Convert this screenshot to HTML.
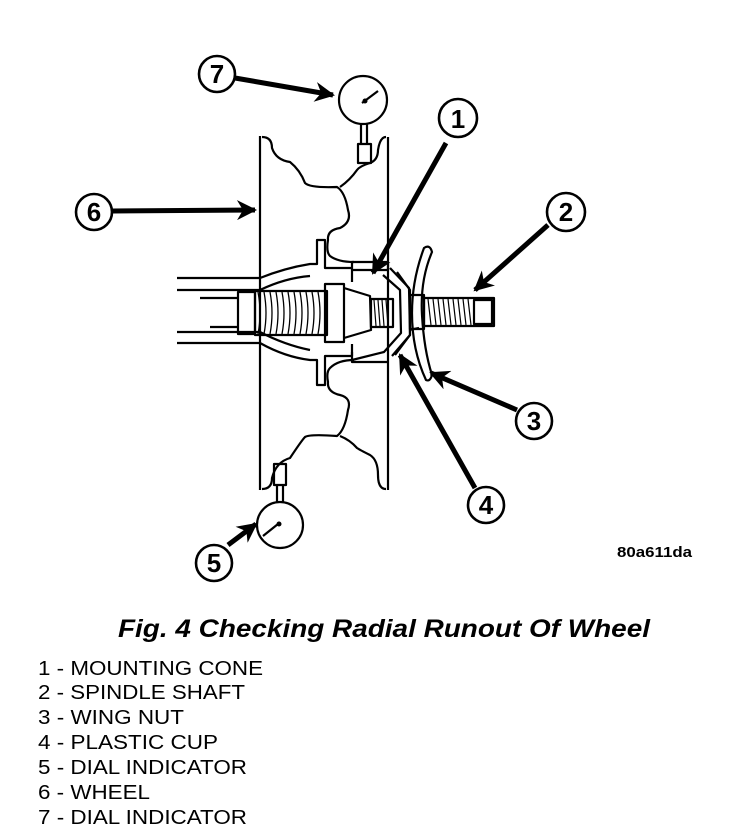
<!DOCTYPE html>
<html><head><meta charset="utf-8"><style>
html,body{margin:0;padding:0;background:#fff;width:736px;height:834px;overflow:hidden}
svg{display:block}
text{font-family:"Liberation Sans",Arial,sans-serif;fill:#000}
</style></head><body>
<svg width="736" height="834" viewBox="0 0 736 834" xmlns="http://www.w3.org/2000/svg">
<defs>
<marker id="ah" viewBox="0 0 10 10" refX="9" refY="5" markerWidth="4" markerHeight="4" orient="auto" markerUnits="strokeWidth">
<path d="M0,0 L10,5 L0,10 L3,5 z" fill="#000"/></marker>
</defs>
<g fill="none" stroke="#000" stroke-width="2.2" stroke-linejoin="round">
<path d="M260,136 L260,490"/>
<path d="M388,137 L388,490"/>
<path d="M262,137 Q272,137 272,148 Q276,160 290,162 Q300,170 305,183 Q310,188 337,187 Q345,192 348,210 Q352,222 340,228 Q327,230 328,240 Q326,252 330,256 Q338,262 354,262"/>
<path d="M386,137 Q380,137 378,150 Q378,160 370,163 Q360,166 357,170 Q350,180 340,187"/>
<path d="M262,489 Q272,489 272,478 Q276,462 290,458 Q302,440 305,437 Q310,434 337,436 Q345,430 348,410 Q352,398 340,395 Q327,392 328,382 Q326,372 330,368 Q338,360 354,360"/>
<path d="M386,489 Q378,489 378,475 Q378,460 370,455 Q360,450 357,448 Q350,440 340,436"/>
<path d="M177,278 L260,278 Q285,268 310,264 L317,264 L317,240 L325,240 L325,268 L352,268 L352,282"/>
<path d="M177,290 L260,290 Q285,278 310,276"/>
<path d="M177,343 L260,343 Q285,357 310,360 L317,360 L317,385 L325,385 L325,356 L352,356 L352,344"/>
<path d="M177,332 L260,332 Q285,345 310,350"/>
<path d="M200,298 L238,298 M210,327 L238,327"/>
<rect x="238" y="292" width="17" height="42"/>
<rect x="255" y="291" width="72" height="44"/>
<path d="M258,292 Q262,313 258,334 M264,292 Q268,313 264,334 M270,292 Q274,313 270,334 M276,292 Q280,313 276,334 M282,292 Q286,313 282,334 M288,292 Q292,313 288,334 M294,292 Q298,313 294,334 M300,292 Q304,313 300,334 M306,292 Q310,313 306,334 M312,292 Q316,313 312,334 M318,292 Q322,313 318,334" stroke-width="1.3"/>
<rect x="325" y="284" width="19" height="58"/>
<path d="M344,288 L370,296 L371,330 L344,338"/>
<rect x="371" y="299" width="22" height="28"/>
<path d="M374,300 L376,326 M378,300 L380,326 M382,300 L384,326 M386,300 L388,326" stroke-width="1.2"/>
<path d="M352,268 L352,262 L388,262 L388,270 L352,270"/>
<path d="M352,352 L352,362 L388,362"/>
<path d="M383,275 L400,290 L401,333 L384,352 L352,360"/>
<path d="M390,268 L409,288 L410,335 L392,356"/>
<path d="M397,272 L410,290 L410,335 L395,355 M409,330 L419,328"/>
<rect x="410" y="295" width="14" height="34"/>
<path d="M424,248 Q430,244 432,252 Q420,280 422,315 Q424,350 432,375 Q430,382 426,380 Q412,350 412,313 Q412,280 424,248 Z"/>
<rect x="424" y="298" width="70" height="28"/>
<path d="M428,299 L431,325 M433,299 L436,325 M438,299 L441,325 M443,299 L446,325 M448,299 L451,325 M453,299 L456,325 M458,299 L461,325 M463,299 L466,325 M468,299 L471,325" stroke-width="1.2"/>
<rect x="474" y="300" width="18" height="24"/>
<circle cx="363" cy="100" r="24"/>
<path d="M362,103 L378,91"/>
<path d="M361,124 L361,144 M367,124 L367,144 M358,144 L371,144 L371,163 L358,163 Z"/>
<circle cx="280" cy="525" r="23"/>
<path d="M263,536 L278,524"/>
<path d="M277,502 L277,485 M283,502 L283,485 M274,485 L286,485 L286,464 L274,464 Z"/>
</g>
<circle cx="365" cy="101" r="2.5"/>
<circle cx="279" cy="524" r="2.5"/>
<g stroke="#000" stroke-width="5" fill="none" marker-end="url(#ah)">
<path d="M235,78 L333,95"/>
<path d="M113,211 L255,210"/>
<path d="M446,143 L373,273"/>
<path d="M548,225 L475,290"/>
<path d="M517,410 L431,373"/>
<path d="M475,488 L400,355"/>
<path d="M228,545 L256,524"/>
</g>
<g fill="#fff" stroke="#000" stroke-width="2.6">
<circle cx="217" cy="74" r="18"/>
<circle cx="458" cy="118" r="19"/>
<circle cx="94" cy="212" r="18"/>
<circle cx="566" cy="212" r="19"/>
<circle cx="534" cy="421" r="18"/>
<circle cx="486" cy="505" r="18"/>
<circle cx="214" cy="563" r="18"/>
</g>
<g font-size="26" font-weight="bold" text-anchor="middle">
<text x="217" y="83">7</text>
<text x="458" y="128">1</text>
<text x="94" y="221">6</text>
<text x="566" y="221">2</text>
<text x="534" y="430">3</text>
<text x="486" y="514">4</text>
<text x="214" y="572">5</text>
</g>
<text x="617" y="557" font-size="15" font-weight="bold" textLength="75" lengthAdjust="spacingAndGlyphs">80a611da</text>
<text x="118" y="637" font-size="25" font-weight="bold" font-style="italic" textLength="532" lengthAdjust="spacingAndGlyphs">Fig. 4 Checking Radial Runout Of Wheel</text>
<g font-size="20">
<text x="38" y="675" textLength="225" lengthAdjust="spacingAndGlyphs">1 - MOUNTING CONE</text>
<text x="38" y="699" textLength="207" lengthAdjust="spacingAndGlyphs">2 - SPINDLE SHAFT</text>
<text x="38" y="724" textLength="146" lengthAdjust="spacingAndGlyphs">3 - WING NUT</text>
<text x="38" y="749" textLength="180" lengthAdjust="spacingAndGlyphs">4 - PLASTIC CUP</text>
<text x="38" y="774" textLength="209" lengthAdjust="spacingAndGlyphs">5 - DIAL INDICATOR</text>
<text x="38" y="799" textLength="112" lengthAdjust="spacingAndGlyphs">6 - WHEEL</text>
<text x="38" y="824" textLength="209" lengthAdjust="spacingAndGlyphs">7 - DIAL INDICATOR</text>
</g>
</svg>
</body></html>
